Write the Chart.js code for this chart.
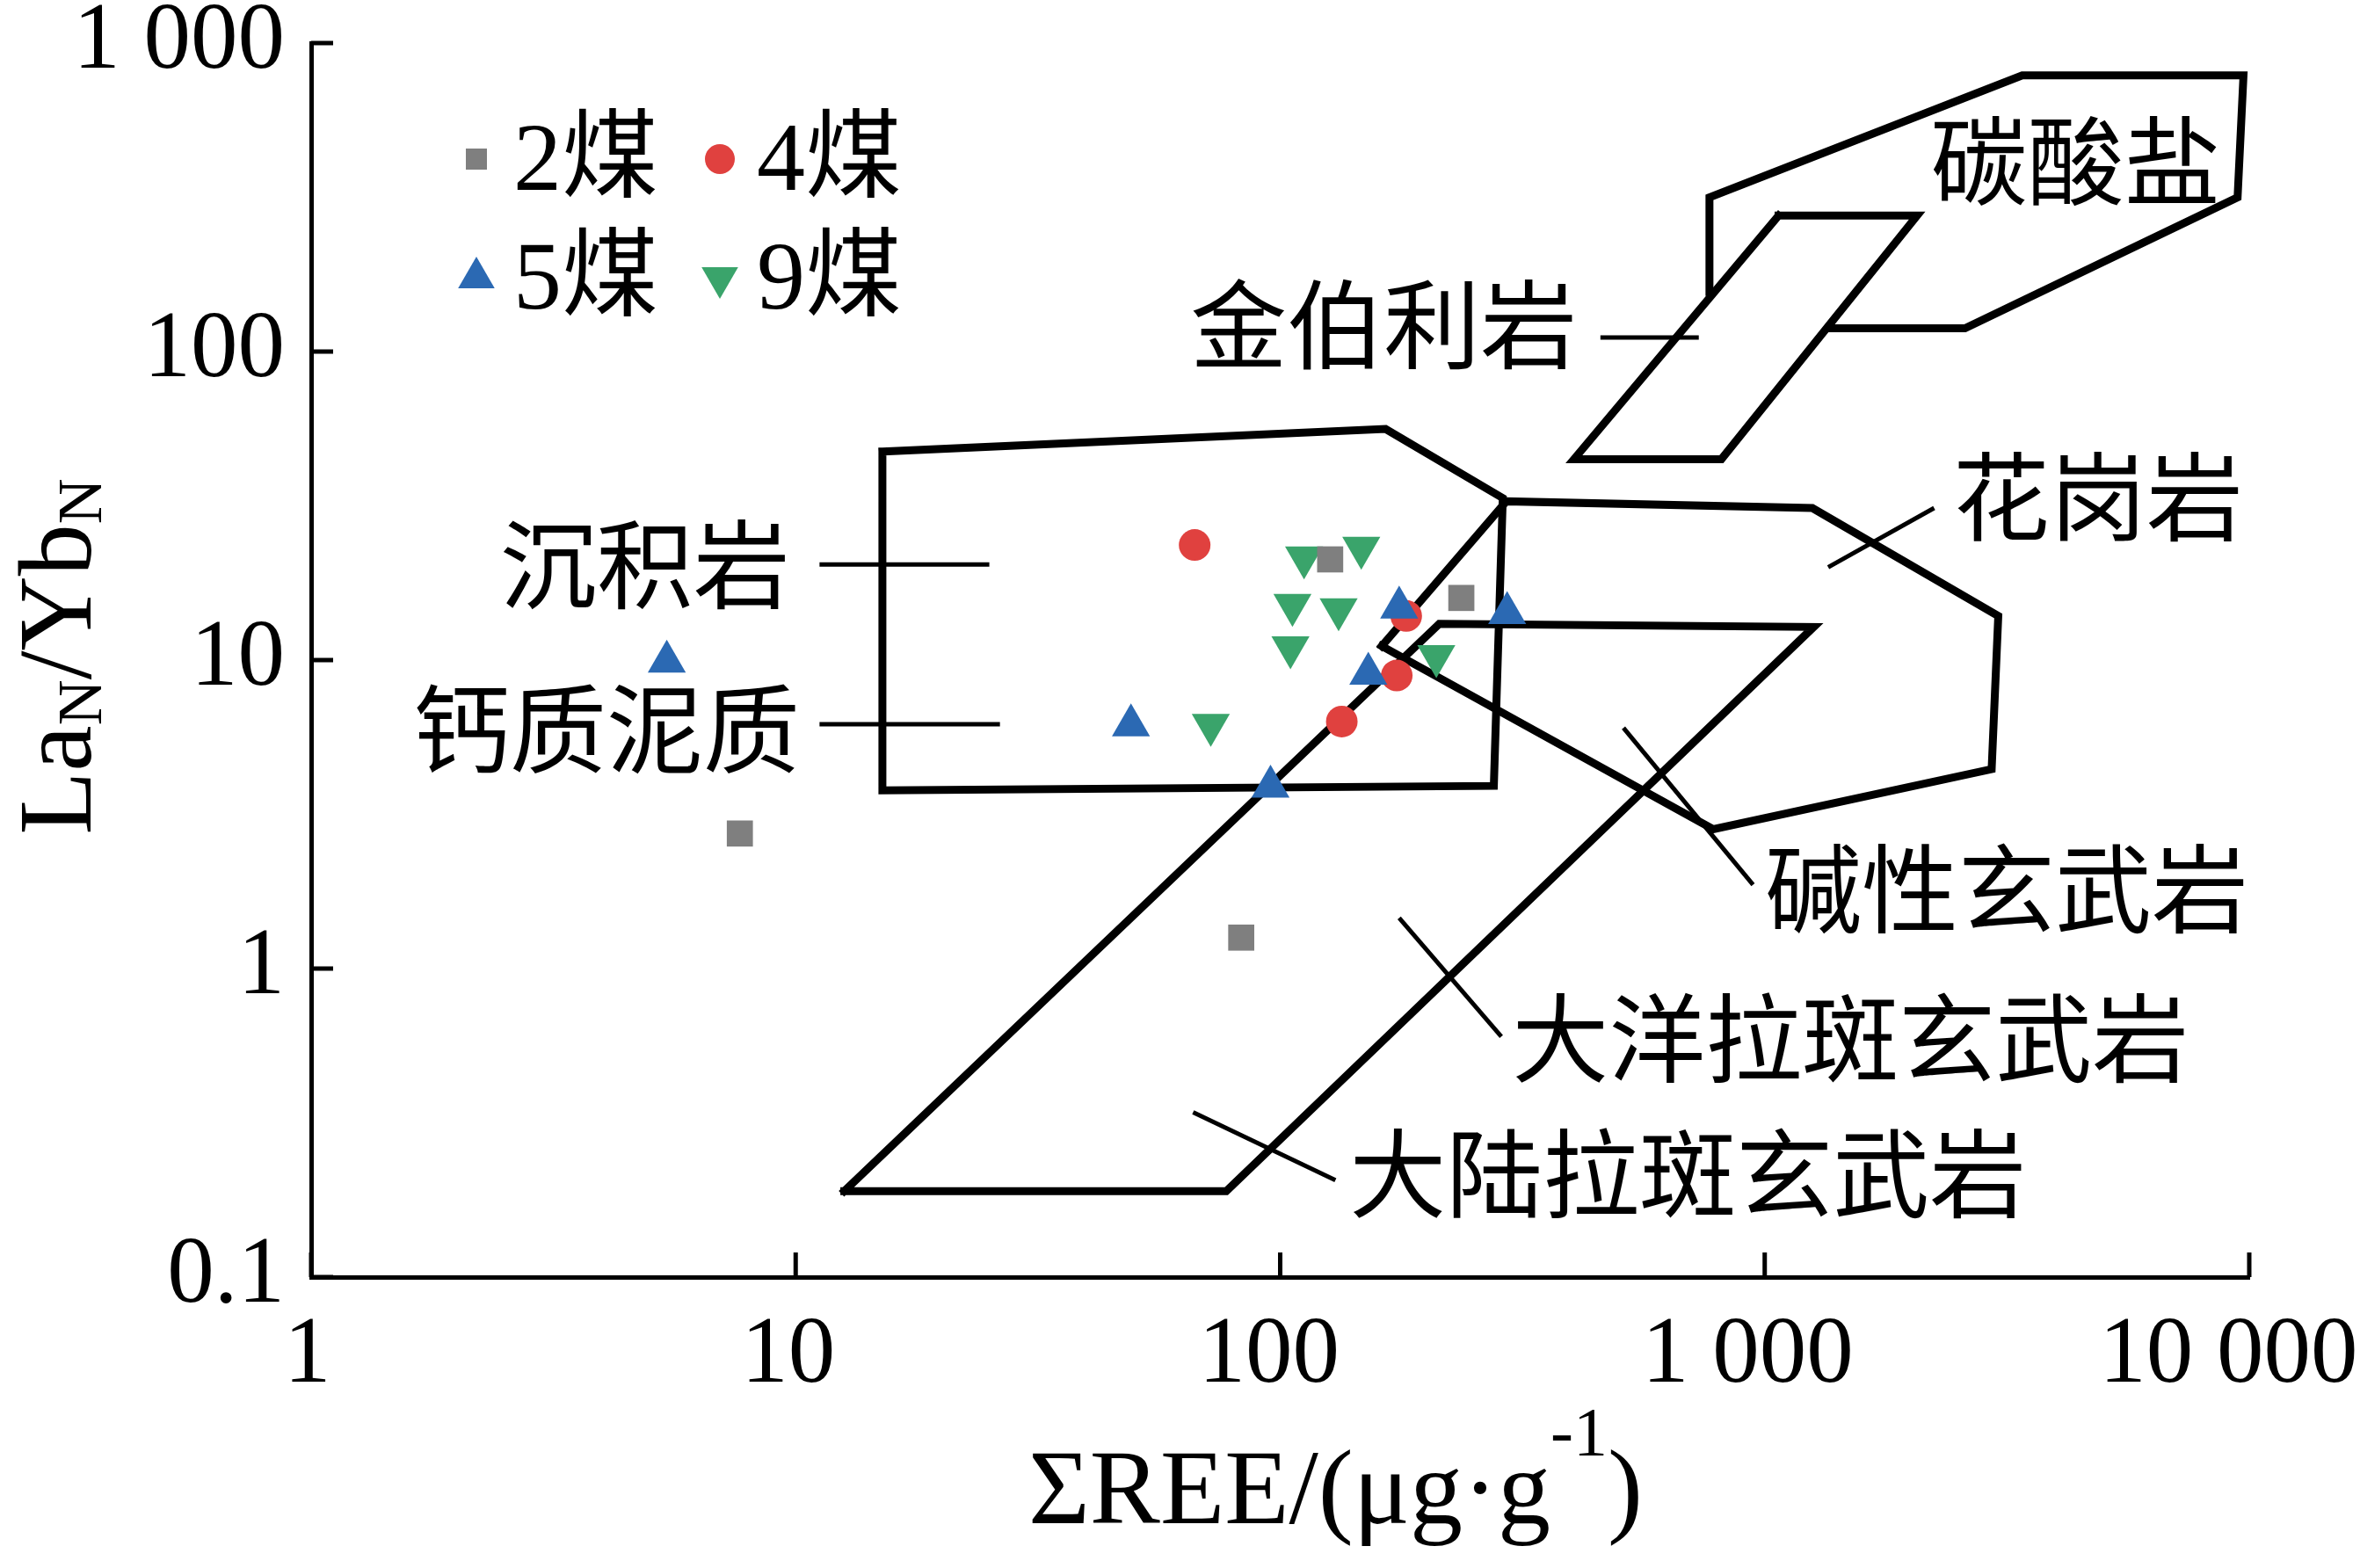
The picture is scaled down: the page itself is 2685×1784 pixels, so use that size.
<!DOCTYPE html>
<html>
<head>
<meta charset="utf-8">
<script src="https://cdn.jsdelivr.net/npm/chart.js@4.4.1/dist/chart.umd.min.js"></script>
<style>
  html, body { margin: 0; padding: 0; background: #fff; }
  canvas { display: block; }
</style>
</head>
<body>
<canvas id="chart" width="2685" height="1784"></canvas>
<script>
// samples: total REE (ug/g) vs La_N/Yb_N
const coal2Ree = [7.67, 83.1, 126.8, 236.5];
const coal2Ratio = [2.74, 1.26, 21.2, 15.9];
const coal4Ree = [66.6, 182, 174, 134];
const coal4Ratio = [23.6, 13.9, 8.91, 6.32];
const coal5Ree = [5.42, 49.2, 95.5, 152, 176, 294];
const coal5Ratio = [9.89, 6.14, 3.89, 9.03, 14.8, 14.2];
const coal9Ree = [112, 147, 106, 132, 105, 210, 71.9];
const coal9Ratio = [21.5, 23.1, 15.1, 14.6, 11.0, 10.3, 6.16];
const seriesNames = ['2煤', '4煤', '5煤', '9煤'];

// rock field outlines (vertices in data units)
const sedimentRee = [15.1, 165, 288, 276, 15.1, 15.1];
const sedimentRatio = [47.4, 56.1, 33.5, 3.91, 3.78, 47.4];
const carbonateRee = [769, 769, 3400, 9730, 9460, 2590, 1360];
const carbonateRatio = [156, 316, 786, 786, 316, 119, 119];
const kimberliteRee = [1068, 2063, 814, 404, 1068];
const kimberliteRatio = [276, 276, 44.8, 44.8, 276];
const graniteRee = [162, 293, 1254, 3034, 2940, 783, 162];
const graniteRatio = [11.1, 32.7, 31.1, 13.9, 4.43, 2.83, 11.1];
const tholeiiteRee = [12.6, 77.4, 1262, 213, 12.6];
const tholeiiteRatio = [0.19, 0.19, 12.8, 13.1, 0.19];

// field names and where they sit
const fieldNames = ['碳酸盐', '金伯利岩', '花岗岩', '沉积岩', '钙质泥质', '碱性玄武岩', '大洋拉斑玄武岩', '大陆拉斑玄武岩'];
const fieldNameRee = [2199, 410, 2447, 9.73, 10.2, 1001, 301, 139];
const fieldNameRatio = [414, 122, 33.8, 20.4, 6.0, 1.82, 0.593, 0.216];

// leader lines from names to fields
const leaderRee = [[11.2, 25.1], [11.2, 26.4], [458, 731], [1352, 2237], [511, 946], [176, 286], [66.1, 130]];
const leaderRatio = [[20.4, 20.4], [6.19, 6.19], [111, 111], [20.0, 31.1], [6.03, 1.87], [1.46, 0.602], [0.342, 0.206]];

const reeTicks = [1, 10, 100, 1000, 10000];
const reeTickLabels = ['1', '10', '100', '1 000', '10 000'];
const ratioTicks = [0.1, 1, 10, 100, 1000];
const ratioTickLabels = ['0.1', '1', '10', '100', '1 000'];

const toPoints = (xs, ys) => xs.map((x, i) => ({ x: x, y: ys[i] }));

const serif = '"Liberation Serif", "Times New Roman", "Noto Sans CJK SC", serif';
const cjk = '"Noto Sans CJK SC", "Noto Sans CJK JP", sans-serif';

const markers = {
    '2煤': { pointStyle: 'rect', radius: 21, rotation: 0, color: '#7f7f7f' },
    '4煤': { pointStyle: 'circle', radius: 18, rotation: 0, color: '#e0413f' },
    '5煤': { pointStyle: 'triangle', radius: 25, rotation: 0, color: '#2b69b3' },
    '9煤': { pointStyle: 'triangle', radius: 25, rotation: 180, color: '#3aa46b' }
};

function sampleSet(name, xs, ys) {
    const m = markers[name];
    return {
        label: name,
        data: toPoints(xs, ys),
        pointStyle: m.pointStyle,
        pointRadius: m.radius,
        pointRotation: m.rotation,
        pointBackgroundColor: m.color,
        pointBorderWidth: 0,
        showLine: false
    };
}

function outline(xs, ys, width) {
    return {
        label: '',
        data: toPoints(xs, ys),
        showLine: true,
        borderColor: '#000',
        borderWidth: width,
        borderCapStyle: 'square',
        borderJoinStyle: 'miter',
        pointRadius: 0,
        fill: false,
        tension: 0
    };
}

const datasets = [
    sampleSet('2煤', coal2Ree, coal2Ratio),
    sampleSet('5煤', coal5Ree, coal5Ratio),
    sampleSet('4煤', coal4Ree, coal4Ratio),
    sampleSet('9煤', coal9Ree, coal9Ratio),
    outline(sedimentRee, sedimentRatio, 9),
    outline(carbonateRee, carbonateRatio, 9),
    outline(kimberliteRee, kimberliteRatio, 9),
    outline(graniteRee, graniteRatio, 9),
    outline(tholeiiteRee, tholeiiteRatio, 9)
];
leaderRee.forEach((xs, i) => {
    const d = outline(xs, leaderRatio[i], 5);
    d.borderCapStyle = 'butt';
    datasets.push(d);
});

// text runs with sub/superscripts
function drawRich(ctx, parts, x, y) {
    let cx = x;
    parts.forEach(p => {
        ctx.font = p.size + 'px ' + serif;
        ctx.fillText(p.text, cx, y + p.shift);
        cx += ctx.measureText(p.text).width;
    });
}
function richWidth(ctx, parts) {
    let w = 0;
    parts.forEach(p => {
        ctx.font = p.size + 'px ' + serif;
        w += ctx.measureText(p.text).width;
    });
    return w;
}

const rightAligned = ['金伯利岩', '沉积岩', '钙质泥质'];

const annotate = {
    id: 'annotate',
    afterDatasetsDraw(chart) {
        const ctx = chart.ctx;
        const area = chart.chartArea;
        const xs = chart.scales.x;
        const ys = chart.scales.y;
        ctx.save();
        ctx.fillStyle = '#000';
        ctx.strokeStyle = '#000';

        // inward tick marks
        ctx.lineWidth = 5;
        reeTicks.forEach(v => {
            const px = xs.getPixelForValue(v);
            ctx.beginPath();
            ctx.moveTo(px, area.bottom);
            ctx.lineTo(px, area.bottom - 28);
            ctx.stroke();
        });
        ratioTicks.forEach(v => {
            const py = ys.getPixelForValue(v);
            ctx.beginPath();
            ctx.moveTo(area.left, py);
            ctx.lineTo(area.left + 25, py);
            ctx.stroke();
        });

        // x tick labels, nudged left a little like the original
        ctx.font = '107px ' + serif;
        ctx.textAlign = 'center';
        ctx.textBaseline = 'alphabetic';
        reeTicks.forEach((v, i) => {
            const label = reeTickLabels[i];
            const w = ctx.measureText(label).width;
            ctx.fillText(label, xs.getPixelForValue(v) - 0.08 * w, area.bottom + 119);
        });

        // field names
        ctx.font = '110px ' + cjk;
        ctx.textBaseline = 'middle';
        fieldNames.forEach((name, i) => {
            ctx.textAlign = rightAligned.includes(name) ? 'right' : 'left';
            ctx.fillText(name, xs.getPixelForValue(fieldNameRee[i]), ys.getPixelForValue(fieldNameRatio[i]));
        });

        // legend, two columns by two rows
        ctx.textAlign = 'left';
        ctx.textBaseline = 'alphabetic';
        const cols = [area.left + 188, area.left + 465];
        const rows = [area.top + 132, area.top + 267];
        seriesNames.forEach((name, i) => {
            const m = markers[name];
            const mx = cols[i % 2];
            const my = rows[Math.floor(i / 2)];
            ctx.fillStyle = m.color;
            Chart.helpers.drawPoint(ctx, {
                pointStyle: m.pointStyle,
                radius: m.pointStyle === 'triangle' ? 24 : 17,
                rotation: m.rotation,
                borderWidth: 0
            }, mx, my);
            ctx.fillStyle = '#000';
            ctx.font = '110px ' + serif;
            ctx.fillText(name, mx + 42, my + 35);
        });

        // x axis title
        const xTitle = [
            { text: 'ΣREE/(μg·g', size: 120, shift: 0 },
            { text: '-1', size: 78, shift: -78 },
            { text: ')', size: 120, shift: 0 }
        ];
        drawRich(ctx, xTitle, area.left + 816, area.bottom + 280);

        // y axis title, rotated
        const yTitle = [
            { text: 'La', size: 118, shift: 0 },
            { text: 'N', size: 72, shift: 12 },
            { text: '/Yb', size: 118, shift: 0 },
            { text: 'N', size: 72, shift: 12 }
        ];
        ctx.translate(area.left - 251, area.top + 698);
        ctx.rotate(-Math.PI / 2);
        drawRich(ctx, yTitle, -richWidth(ctx, yTitle) / 2, 0);
        ctx.restore();
    }
};

function fixTicks(values) {
    return scale => { scale.ticks = values.map(v => ({ value: v })); };
}

new Chart(document.getElementById('chart'), {
    type: 'scatter',
    data: { datasets: datasets },
    options: {
        responsive: false,
        animation: false,
        devicePixelRatio: 1,
        layout: { padding: { left: 0, top: 49, right: 126, bottom: 0 } },
        plugins: {
            legend: { display: false },
            title: { display: false },
            tooltip: { enabled: false }
        },
        scales: {
            x: {
                type: 'logarithmic',
                min: 1,
                max: 10000,
                afterBuildTicks: fixTicks(reeTicks),
                afterFit: scale => {
                    scale.height = 331;
                    scale.paddingLeft = 0;
                    scale.paddingRight = 0;
                },
                grid: { display: false },
                border: { display: true, color: '#000', width: 5 },
                ticks: { display: false }
            },
            y: {
                type: 'logarithmic',
                min: 0.1,
                max: 1000,
                afterBuildTicks: fixTicks(ratioTicks),
                afterFit: scale => {
                    scale.width = 354;
                    scale.paddingTop = 0;
                    scale.paddingBottom = 0;
                },
                grid: { display: false },
                border: { display: true, color: '#000', width: 5 },
                ticks: {
                    autoSkip: false,
                    padding: 22,
                    color: '#000',
                    font: { family: serif, size: 107 },
                    callback: v => ratioTickLabels[ratioTicks.indexOf(v)]
                }
            }
        }
    },
    plugins: [annotate]
});
</script>
</body>
</html>
